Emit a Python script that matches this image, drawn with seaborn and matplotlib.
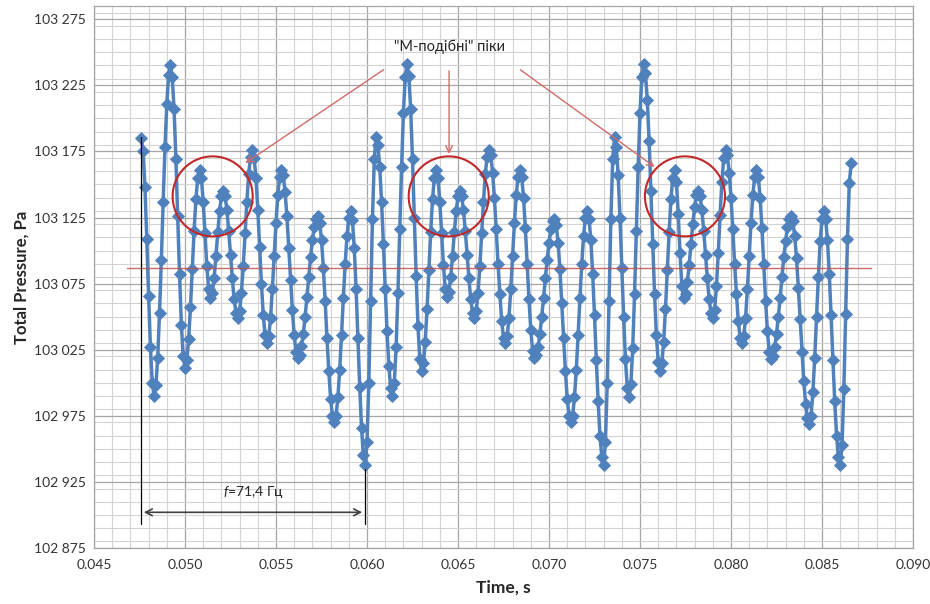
import numpy as np
import matplotlib
matplotlib.use("Agg")
import matplotlib.pyplot as plt
from matplotlib.patches import Ellipse
from matplotlib.ticker import MultipleLocator, FuncFormatter
import seaborn as sns

# sampled total pressure, Pa (one sample every 0.1 ms starting at t_start)
t_start = 0.0476
dt = 0.0001
pressure = [
    103185, 103175, 103148, 103109, 103066, 103027, 103000, 102990,
    102998, 103019, 103053, 103093, 103137, 103178, 103211, 103233, 103240,
    103231, 103207, 103169, 103126, 103082, 103044, 103020, 103011,
    103017, 103033, 103057, 103086, 103115, 103139, 103155, 103161,
    103155, 103137, 103113, 103088, 103071, 103064,
    103068, 103079, 103096, 103114, 103130, 103141, 103145,
    103141, 103131, 103115, 103097, 103079, 103063, 103053, 103049,
    103054, 103068, 103088, 103113, 103137, 103158, 103171, 103176,
    103170, 103155, 103131, 103103, 103075, 103051, 103036, 103030,
    103035, 103049, 103071, 103096, 103121, 103142, 103156, 103161,
    103157, 103144, 103126, 103102, 103078, 103055, 103036, 103023, 103019,
    103021, 103028, 103037, 103050, 103065, 103080, 103095, 103108, 103118, 103124, 103126,
    103121, 103108, 103087, 103062, 103034, 103009, 102988, 102975, 102970,
    102975, 102989, 103010, 103036, 103064, 103090, 103111, 103125, 103130,
    103123, 103102, 103071, 103034, 102997, 102966, 102945, 102938,
    102955, 103000, 103062, 103124, 103169, 103186,
    103180, 103163, 103137, 103105, 103071, 103039, 103013, 102996, 102990,
    103000, 103027, 103068, 103116, 103163, 103204, 103231, 103241,
    103232, 103207, 103169, 103125, 103081, 103043, 103018, 103009,
    103015, 103031, 103056, 103085, 103114, 103139, 103155, 103161,
    103155, 103137, 103113, 103089, 103071, 103065,
    103069, 103080, 103096, 103114, 103130, 103141, 103145,
    103141, 103131, 103115, 103097, 103079, 103063, 103053, 103049,
    103054, 103068, 103088, 103113, 103137, 103158, 103171, 103176,
    103172, 103159, 103140, 103116, 103090, 103067, 103047, 103034, 103030,
    103035, 103049, 103071, 103096, 103121, 103142, 103156, 103161,
    103156, 103140, 103117, 103090, 103063, 103040, 103024, 103019,
    103021, 103027, 103037, 103050, 103064, 103079, 103093, 103106, 103116, 103122, 103124,
    103119, 103106, 103086, 103060, 103034, 103009, 102988, 102975, 102970,
    102975, 102989, 103010, 103036, 103064, 103090, 103111, 103125, 103130,
    103124, 103108, 103082, 103051, 103017, 102986, 102960, 102944, 102938,
    102955, 103000, 103062, 103124, 103169, 103186,
    103178, 103157, 103125, 103087, 103050, 103018, 102996, 102989,
    102999, 103026, 103067, 103115, 103163, 103204, 103231, 103241,
    103234, 103214, 103183, 103145, 103105, 103067, 103036, 103016, 103009,
    103015, 103031, 103056, 103085, 103114, 103139, 103155, 103161,
    103152, 103128, 103098, 103073, 103064,
    103067, 103076, 103089, 103105, 103120, 103133, 103142, 103145,
    103141, 103131, 103115, 103097, 103079, 103063, 103053, 103049,
    103055, 103073, 103098, 103127, 103152, 103170, 103176,
    103172, 103159, 103140, 103116, 103090, 103067, 103047, 103034, 103030,
    103035, 103049, 103071, 103096, 103121, 103142, 103156, 103161,
    103156, 103140, 103117, 103090, 103062, 103039, 103023, 103018,
    103020, 103027, 103037, 103050, 103064, 103080, 103095, 103107, 103118, 103124, 103126,
    103122, 103111, 103094, 103072, 103048, 103023, 103001, 102984, 102973, 102969,
    102975, 102993, 103019, 103050, 103080, 103107, 103124, 103130,
    103124, 103108, 103082, 103051, 103017, 102986, 102960, 102944, 102938,
    102953, 102995, 103052, 103109, 103151, 103166,
]
time = t_start + dt * np.arange(len(pressure))

# annotation values
mean_level = 103087
mean_span = [0.04682, 0.08769]
circle_t = [0.05152, 0.06449, 0.07747]
circle_p = 103141
circle_w, circle_h = 0.0044, 60.5
label_text = '"М-подібні" піки'
label_pos = (0.06456, 103254)
arrow_from = [(0.06104, 103238), (0.06451, 103238), (0.0683, 103238)]
arrow_to = [(0.05319, 103165), (0.06451, 103171), (0.07593, 103162)]
period_t = [0.04758, 0.05989]
period_top = [103186, 102935]
period_low = 102893
period_arrow_p = 102902
period_text = "$f$=71,4 Гц"

sns.set_style("white")
plt.rcParams["font.family"] = ["Lato", "Open Sans", "DejaVu Sans"]
plt.rcParams["mathtext.fontset"] = "custom"
plt.rcParams["mathtext.it"] = "Lato:italic"
plt.rcParams["mathtext.rm"] = "Lato"

fig = plt.figure(figsize=(9.3, 6.04), dpi=100)
ax = fig.add_axes([94 / 930, 56 / 604, 819 / 930, 542 / 604])

ax.set_xlim(0.045, 0.090)
ax.set_ylim(102875, 103285)
ax.xaxis.set_major_locator(MultipleLocator(0.005))
ax.xaxis.set_minor_locator(MultipleLocator(0.001))
ax.set_yticks(np.arange(102875, 103276, 50))
ax.yaxis.set_minor_locator(MultipleLocator(10))
ax.xaxis.set_major_formatter(FuncFormatter(lambda v, p: f"{v:.3f}"))
ax.yaxis.set_major_formatter(FuncFormatter(lambda v, p: f"{v:,.0f}".replace(",", " ")))
ax.grid(which="major", color="#a6a6a6", linewidth=0.9)
ax.grid(which="minor", color="#d4d4d4", linewidth=0.8)
ax.set_axisbelow(True)
for s in ax.spines.values():
    s.set_color("#a6a6a6")
    s.set_linewidth(0.9)
ax.tick_params(which="both", length=0)
ax.tick_params(axis="y", pad=6, labelsize=10, labelcolor="#333333")
ax.tick_params(axis="x", pad=8, labelsize=10, labelcolor="#333333")

sns.lineplot(x=time, y=pressure, ax=ax, color="#4f81bd", linewidth=2.5,
             marker="D", markersize=6.5, markeredgecolor="#4f81bd",
             markeredgewidth=0.6, sort=False, zorder=3)

ax.plot(mean_span, [mean_level, mean_level], color="#c0504d", linewidth=1, alpha=0.85, zorder=4)

for ct in circle_t:
    ax.add_patch(Ellipse((ct, circle_p), circle_w, circle_h, fill=False,
                         edgecolor="#c0282a", linewidth=1.5, zorder=5))

ax.text(label_pos[0], label_pos[1], label_text, ha="center", va="center",
        fontsize=10.5, color="#262626")
for a, b in zip(arrow_from, arrow_to):
    ax.annotate("", xy=b, xytext=a,
                arrowprops=dict(arrowstyle="->", color="#d06a6a", lw=1, mutation_scale=12),
                zorder=5)

ax.plot([period_t[0], period_t[0]], [period_top[0], period_low], color="black", linewidth=0.9, zorder=4)
ax.plot([period_t[1], period_t[1]], [period_top[1], period_low], color="black", linewidth=0.9, zorder=4)
ax.annotate("", xy=(period_t[1], period_arrow_p), xytext=(period_t[0], period_arrow_p),
            arrowprops=dict(arrowstyle="<->", color="#404040", lw=1.2, mutation_scale=12))
ax.text(sum(period_t) / 2, 102917, period_text, ha="center", va="center",
        fontsize=10, color="#262626")

ax.set_xlabel("Time, s", fontsize=12.5, fontweight="bold", labelpad=6)
ax.set_ylabel("Total Pressure, Pa", fontsize=12, fontweight="bold", labelpad=3)

fig.savefig("out.png", dpi=100)
